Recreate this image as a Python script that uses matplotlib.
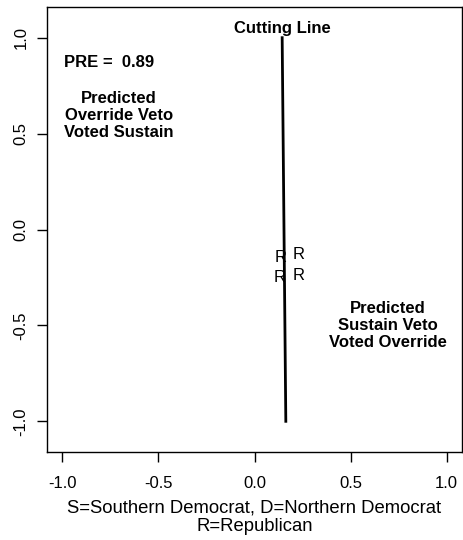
import matplotlib
matplotlib.use("Agg")
import matplotlib.pyplot as plt

plt.rcParams['font.family'] = ['Liberation Sans', 'DejaVu Sans']

# Cutting line endpoints
cut_x = [0.144, 0.163]
cut_y = [1.0, -1.0]

# Legislator points (all Republicans)
pt_x = [0.134, 0.230, 0.130, 0.230]
pt_y = [-0.144, -0.130, -0.250, -0.240]
pt_lab = ["R", "R", "R", "R"]

xticks = [-1.0, -0.5, 0.0, 0.5, 1.0]
yticks = [-1.0, -0.5, 0.0, 0.5, 1.0]
tick_labels = ["-1.0", "-0.5", "0.0", "0.5", "1.0"]

pre_value = 0.89

fig = plt.figure(figsize=(4.63, 5.40), dpi=100)
ax = fig.add_axes([47/463, 88/540, 415/463, 445/540])

ax.plot(cut_x, cut_y, color='black', lw=2.0)
for x, y, s in zip(pt_x, pt_y, pt_lab):
    ax.text(x, y, s, ha='center', va='center', fontsize=12)

ax.text(0.146, 1.05, "Cutting Line", ha='center', va='center', fontsize=12, fontweight='bold')
ax.text(-0.755, 0.87, f"PRE =  {pre_value:.2f}", ha='center', va='center', fontsize=12, fontweight='bold')
ax.text(-0.705, 0.594, "Predicted\nOverride Veto\nVoted Sustain", ha='center', va='center',
        fontsize=12, fontweight='bold', linespacing=1.2)
ax.text(0.695, -0.50, "Predicted\nSustain Veto\nVoted Override", ha='center', va='center',
        fontsize=12, fontweight='bold', linespacing=1.2)

ax.set_xlim(-1.08, 1.08)
ax.set_ylim(-1.16, 1.16)
ax.set_xticks(xticks)
ax.set_xticklabels(tick_labels)
ax.set_yticks(yticks)
ax.set_yticklabels(tick_labels, rotation=90, va='center')
ax.tick_params(axis='both', direction='out', length=7.2, width=1.0, labelsize=12)
ax.tick_params(axis='x', pad=10)
ax.tick_params(axis='y', pad=6)
for sp in ax.spines.values():
    sp.set_linewidth(1.0)

ax.set_xlabel("S=Southern Democrat, D=Northern Democrat\nR=Republican", fontsize=13.3,
              linespacing=1.15, labelpad=6)

fig.savefig("out.png", dpi=100)
